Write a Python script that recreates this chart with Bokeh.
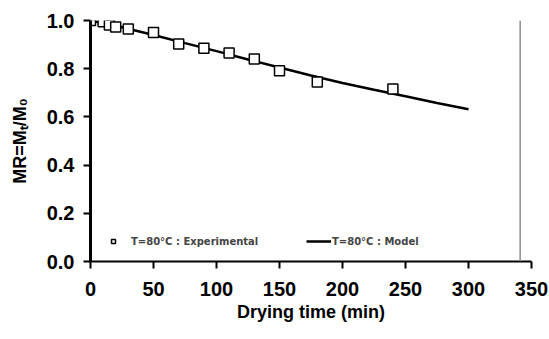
from bokeh.plotting import figure
from bokeh.models import Range1d, Legend, LegendItem, Span, FixedTicker, CustomJSTickFormatter
from bokeh.embed import file_html
from bokeh.resources import INLINE

# Experimental data (T=80°C)
exp_time = [0, 10, 15, 20, 30, 50, 70, 90, 110, 130, 150, 180, 240]
exp_mr = [1.0, 0.995, 0.981, 0.973, 0.965, 0.95, 0.902, 0.885, 0.865, 0.84, 0.792, 0.745, 0.716]

# Model curve
model_time = [0, 25, 50, 75, 100, 125, 150, 175, 200, 225, 250, 275, 300]
model_mr = [1.0, 0.972, 0.940, 0.906, 0.873, 0.838, 0.805, 0.772, 0.741, 0.713, 0.686, 0.658, 0.632]

x_ticks = [0, 50, 100, 150, 200, 250, 300, 350]
y_ticks = [0.0, 0.2, 0.4, 0.6, 0.8, 1.0]

FONT = "Liberation Sans"

p = figure(width=549, height=339, output_backend="svg", toolbar_location=None,
           x_range=Range1d(0, 350), y_range=Range1d(0, 1.0),
           min_border_left=90, min_border_right=18, min_border_top=20, min_border_bottom=78)
p.outline_line_color = None
p.xgrid.visible = False
p.ygrid.visible = False
p.background_fill_color = "white"
p.border_fill_color = "white"

line_r = p.line(model_time, model_mr, line_color="black", line_width=2.5)
pts_r = p.scatter(exp_time, exp_mr, marker="square", size=10, fill_color="white",
                  line_color="black", line_width=1.5)

# scan edge line
p.add_layout(Span(location=341, dimension="height", line_color="#8c8c8c", line_width=1.5))

for ax in (p.xaxis[0], p.yaxis[0]):
    ax.major_label_text_font = FONT
    ax.major_label_text_font_style = "bold"
    ax.major_label_text_font_size = "20px"
    ax.major_label_text_color = "black"
    ax.axis_label_text_font = FONT
    ax.axis_label_text_font_style = "bold"
    ax.axis_label_text_font_size = "18px"
    ax.axis_label_text_color = "black"
    ax.axis_line_color = "black"
    ax.major_tick_line_color = "black"
    ax.minor_tick_line_color = None
    ax.major_tick_in = 0
    ax.major_tick_out = 7
    ax.major_tick_line_width = 2

p.xaxis.ticker = FixedTicker(ticks=x_ticks)
p.yaxis.ticker = FixedTicker(ticks=y_ticks)
p.yaxis.formatter = CustomJSTickFormatter(code="return tick.toFixed(1);")
p.xaxis.axis_line_width = 2
p.yaxis.axis_line_width = 3
p.xaxis.axis_label = "Drying time (min)"
p.yaxis.axis_label = "MR=M\u209c/M\u2080"
p.xaxis.major_label_standoff = 13
p.yaxis.major_label_standoff = 9
p.xaxis.axis_label_standoff = 3
p.yaxis.axis_label_standoff = 14

LFONT = "DejaVu Sans"
leg1 = Legend(items=[LegendItem(label="T=80°C : Experimental", renderers=[pts_r])],
              location=(18, 14), orientation="horizontal", padding=0, margin=0,
              glyph_width=10, glyph_height=12, label_height=12, label_standoff=13,
              border_line_color=None, background_fill_alpha=0,
              label_text_font=LFONT, label_text_font_style="bold", label_text_font_size="10px")
leg2 = Legend(items=[LegendItem(label="T=80°C : Model", renderers=[line_r])],
              location=(216, 14), orientation="horizontal", padding=0, margin=0,
              glyph_width=25, glyph_height=12, label_height=12, label_standoff=1,
              border_line_color=None, background_fill_alpha=0,
              label_text_font=LFONT, label_text_font_style="bold", label_text_font_size="10px")
p.add_layout(leg1, "center")
p.add_layout(leg2, "center")

open("out.html", "w").write(file_html(p, INLINE))
